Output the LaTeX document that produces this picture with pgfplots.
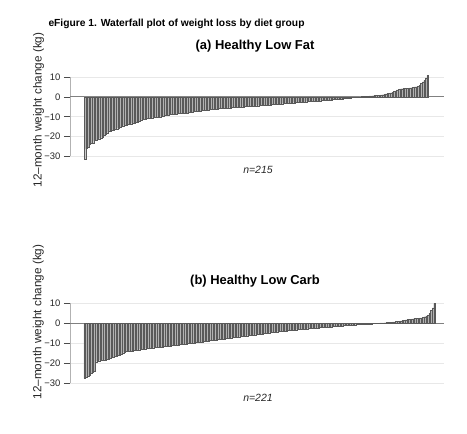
\documentclass[border=0pt]{standalone}
\usepackage{fontspec}
\setmainfont{Liberation Sans}
\usepackage{pgfplots}
\usepackage{pgfplotstable}
\pgfplotsset{compat=1.18}
\pgfplotstableread[row sep=\\]{
y\\
-31.5\\ -26.0\\ -25.4\\ -23.6\\ -23.5\\ -23.4\\ -22.0\\ -21.6\\ -21.3\\ -21.0\\
-20.6\\ -20.0\\ -19.3\\ -18.6\\ -18.0\\ -17.4\\ -17.0\\ -16.8\\ -16.5\\ -16.3\\
-16.0\\ -15.6\\ -15.2\\ -14.8\\ -14.5\\ -14.3\\ -14.1\\ -13.9\\ -13.7\\ -13.5\\
-13.3\\ -13.1\\ -12.9\\ -12.6\\ -12.2\\ -11.6\\ -11.3\\ -11.1\\ -11.0\\ -10.9\\
-10.7\\ -10.6\\ -10.5\\ -10.4\\ -10.3\\ -10.2\\ -10.1\\ -10.0\\ -9.8\\ -9.6\\
-9.4\\ -9.2\\ -9.0\\ -8.9\\ -8.8\\ -8.7\\ -8.6\\ -8.5\\ -8.4\\ -8.35\\
-8.3\\ -8.2\\ -8.1\\ -8.05\\ -8.0\\ -7.8\\ -7.7\\ -7.6\\ -7.4\\ -7.3\\
-7.2\\ -7.1\\ -7.0\\ -6.9\\ -6.8\\ -6.7\\ -6.6\\ -6.5\\ -6.4\\ -6.3\\
-6.2\\ -6.1\\ -6.05\\ -6.0\\
-5.9\\ -5.8\\ -5.75\\ -5.7\\ -5.6\\ -5.5\\ -5.45\\ -5.4\\ -5.3\\ -5.25\\ -5.2\\ -5.15\\ -5.1\\ -5.05\\
-4.95\\ -4.9\\ -4.85\\ -4.8\\ -4.75\\ -4.7\\ -4.65\\ -4.6\\ -4.5\\ -4.45\\ -4.4\\ -4.35\\ -4.3\\ -4.2\\ -4.15\\ -4.1\\ -4.05\\
-3.95\\ -3.9\\ -3.8\\ -3.75\\ -3.7\\ -3.6\\ -3.55\\ -3.5\\ -3.4\\ -3.35\\ -3.3\\ -3.2\\ -3.15\\ -3.1\\ -3.05\\
-2.95\\ -2.9\\ -2.8\\ -2.75\\ -2.7\\ -2.6\\ -2.55\\ -2.5\\ -2.4\\ -2.35\\ -2.3\\ -2.2\\ -2.15\\ -2.1\\ -2.05\\ -2.0\\
-1.95\\ -1.9\\ -1.8\\ -1.75\\ -1.7\\ -1.6\\ -1.55\\ -1.5\\ -1.4\\ -1.35\\ -1.3\\ -1.2\\ -1.15\\ -1.1\\ -1.0\\
-0.9\\ -0.8\\ -0.7\\ -0.6\\ -0.5\\ -0.4\\ -0.3\\ -0.2\\ -0.1\\ 0.0\\
0.05\\ 0.1\\ 0.15\\ 0.2\\ 0.25\\ 0.3\\ 0.4\\ 0.45\\ 0.5\\ 0.6\\ 0.7\\ 0.75\\ 0.8\\ 0.9\\ 1.0\\
1.1\\ 1.3\\ 1.5\\ 1.7\\ 1.8\\ 2.0\\
2.3\\ 2.7\\ 3.0\\ 3.5\\ 3.8\\ 4.0\\
4.1\\ 4.2\\ 4.3\\ 4.3\\ 4.4\\ 4.5\\ 4.6\\
4.8\\ 5.0\\ 5.1\\ 5.3\\ 5.8\\
6.8\\ 7.5\\ 8.2\\ 9.5\\ 10.8\\
}\lowfat
\pgfplotstableread[row sep=\\]{
y\\
-27.7\\ -27.2\\ -26.6\\ -26.0\\ -25.2\\ -24.4\\ -24.2\\
-19.3\\ -19.0\\ -18.8\\ -18.6\\ -18.5\\ -18.4\\ -18.3\\ -18.2\\ -18.0\\ -17.6\\
-17.0\\ -16.8\\ -16.6\\ -16.4\\ -16.1\\ -15.8\\
-15.5\\ -14.8\\ -14.4\\
-14.2\\ -14.1\\ -14.0\\ -13.9\\ -13.8\\ -13.6\\
-13.5\\ -13.4\\ -13.2\\ -13.1\\ -13.0\\ -12.8\\
-12.7\\ -12.6\\ -12.5\\ -12.4\\ -12.3\\ -12.2\\ -12.1\\ -12.0\\ -11.95\\ -11.9\\
-11.8\\ -11.7\\ -11.6\\ -11.5\\ -11.4\\ -11.3\\ -11.2\\ -11.1\\ -11.0\\ -10.9\\ -10.8\\ -10.7\\
-10.6\\ -10.5\\ -10.4\\ -10.3\\ -10.2\\ -10.1\\ -10.0\\ -9.9\\ -9.8\\ -9.7\\ -9.6\\ -9.5\\ -9.4\\
-9.3\\ -9.2\\ -9.1\\ -8.95\\ -8.85\\ -8.7\\
-8.6\\ -8.5\\ -8.4\\ -8.3\\ -8.2\\ -8.1\\ -8.0\\
-7.9\\ -7.8\\ -7.7\\ -7.55\\ -7.4\\ -7.3\\
-7.2\\ -7.1\\ -7.0\\ -6.9\\ -6.8\\ -6.7\\ -6.6\\ -6.5\\ -6.4\\ -6.3\\ -6.2\\ -6.1\\ -6.0\\
-5.9\\ -5.8\\ -5.7\\ -5.6\\ -5.5\\ -5.4\\ -5.3\\ -5.2\\ -5.1\\ -5.0\\ -4.85\\ -4.7\\
-4.6\\ -4.5\\ -4.4\\ -4.3\\ -4.2\\ -4.1\\ -4.0\\ -3.9\\ -3.8\\ -3.75\\ -3.65\\ -3.55\\ -3.45\\
-3.4\\ -3.3\\ -3.2\\ -3.15\\ -3.1\\ -3.0\\ -2.95\\ -2.9\\ -2.8\\ -2.7\\ -2.65\\ -2.55\\
-2.5\\ -2.45\\ -2.4\\ -2.3\\ -2.25\\ -2.2\\ -2.1\\ -2.05\\ -2.0\\ -1.95\\ -1.85\\ -1.8\\ -1.75\\
-1.7\\ -1.6\\ -1.55\\ -1.5\\ -1.4\\ -1.35\\ -1.3\\ -1.2\\ -1.1\\ -1.05\\ -1.0\\ -0.9\\
-0.8\\ -0.75\\ -0.7\\ -0.65\\ -0.6\\ -0.55\\ -0.5\\ -0.45\\ -0.4\\ -0.35\\ -0.3\\ -0.25\\ -0.2\\ -0.15\\ -0.05\\
0.0\\ 0.05\\ 0.1\\ 0.15\\ 0.2\\ 0.25\\ 0.3\\ 0.35\\ 0.4\\ 0.45\\
0.5\\ 0.6\\ 0.7\\ 0.8\\ 0.9\\ 1.0\\ 1.1\\
1.2\\ 1.4\\ 1.6\\ 1.7\\ 1.9\\ 2.0\\
2.2\\ 2.3\\ 2.4\\ 2.5\\ 2.6\\ 2.7\\ 2.75\\
2.8\\ 3.1\\ 3.4\\
3.8\\ 4.2\\
5.0\\ 6.7\\ 7.8\\ 10.0\\
}\lowcarb
\begin{document}
\begin{tikzpicture}
\path[use as bounding box] (0,0) rectangle (467bp,434bp);
\pgfplotsset{wf/.style={
  scale only axis, width=374bp, height=79.5bp,
  axis x line=none, axis y line=left,
  axis line style={-, draw=gray!60, line width=0.6bp},
  ymin=-30, ymax=10,
  ytick={-30,-20,-10,10}, yticklabels={−30,−20,−10,10},
  extra y ticks={0}, extra y tick labels={0},
  extra y tick style={grid style={draw=black!50, line width=0.9bp}},
  ymajorgrids, grid style={draw=gray!18, line width=0.6bp},
  tick align=outside, major tick length=6bp,
  tick style={draw=black!70, line width=0.5bp},
  yticklabel style={font=\fontsize{9.5}{11}\selectfont, text=black!85},
  clip=false, ybar, bar width=1,
}}
\node[anchor=base west, font=\bfseries\fontsize{10.3}{12}\selectfont] at (45bp,407bp) {eFigure 1. Waterfall plot of weight loss by diet group};
% panel a
\node[anchor=base, font=\bfseries\fontsize{13}{15}\selectfont] at (255bp,384bp) {(a) Healthy Low Fat};
\node[rotate=90, font=\fontsize{11.8}{14}\selectfont, text=black!85] at (38.5bp,324bp) {12–month weight change (kg)};
\begin{axis}[wf, at={(70bp,277.5bp)}, anchor=south west, xmin=-9.24, xmax=224.2]
\addplot[fill=gray!60, draw=black!65, line width=0.2bp] table[x expr=\coordindex, y=y] {\lowfat};
\end{axis}
\node[font=\itshape\fontsize{10.5}{12}\selectfont, text=black!85] at (258bp,264bp) {n=215};
% panel b
\node[anchor=base, font=\bfseries\fontsize{13}{15}\selectfont] at (255bp,149.7bp) {(b) Healthy Low Carb};
\node[rotate=90, font=\fontsize{11.8}{14}\selectfont, text=black!85] at (38.3bp,112bp) {12–month weight change (kg)};
\begin{axis}[wf, at={(70bp,51bp)}, anchor=south west, xmin=-9.3, xmax=226]
\addplot[fill=gray!60, draw=black!65, line width=0.2bp] table[x expr=\coordindex, y=y] {\lowcarb};
\end{axis}
\node[font=\itshape\fontsize{10.5}{12}\selectfont, text=black!85] at (258bp,36.5bp) {n=221};
\end{tikzpicture}
\end{document}
